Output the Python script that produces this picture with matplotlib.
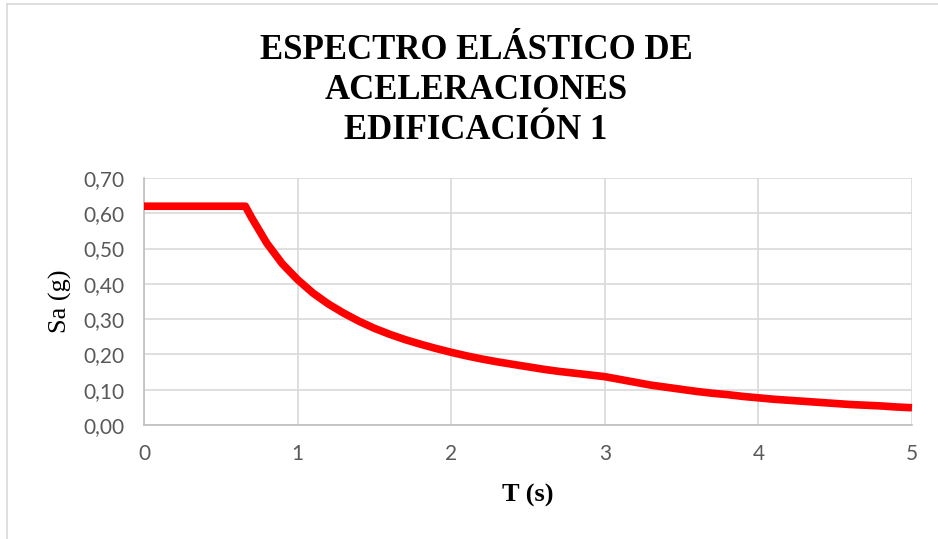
import matplotlib.pyplot as plt
from matplotlib.lines import Line2D

# Elastic acceleration spectrum, building 1
T = [0.0, 0.66, 0.7, 0.8, 0.9, 1.0, 1.1, 1.2, 1.3, 1.4, 1.5, 1.6, 1.7, 1.8, 1.9,
     2.0, 2.1, 2.2, 2.3, 2.4, 2.5, 2.6, 2.7, 2.8, 2.9, 3.0, 3.1, 3.2, 3.3, 3.4,
     3.5, 3.6, 3.7, 3.8, 3.9, 4.0, 4.1, 4.2, 4.3, 4.4, 4.5, 4.6, 4.7, 4.8, 4.9, 5.0]
Sa = [0.62, 0.62, 0.588, 0.515, 0.457, 0.412, 0.374, 0.343, 0.317, 0.294, 0.274,
      0.257, 0.242, 0.229, 0.217, 0.206, 0.196, 0.187, 0.179, 0.172, 0.165, 0.158,
      0.152, 0.147, 0.142, 0.137, 0.129, 0.121, 0.113, 0.107, 0.101, 0.095, 0.090,
      0.086, 0.081, 0.077, 0.073, 0.070, 0.067, 0.064, 0.061, 0.058, 0.056, 0.054,
      0.051, 0.049]

x_ticks = [0, 1, 2, 3, 4, 5]
y_ticks = [0.0, 0.1, 0.2, 0.3, 0.4, 0.5, 0.6, 0.7]

grid_col = '#d9d9d9'
tick_col = '#595959'

fig = plt.figure(figsize=(9.38, 5.39), dpi=100)
ax = fig.add_axes([0.1535, 0.2115, 0.8188, 0.4583])

ax.plot(T, Sa, color='#ff0000', lw=5.5, solid_capstyle='butt', solid_joinstyle='round',
        clip_on=False, zorder=3)

ax.set_xlim(0, 5)
ax.set_ylim(0, 0.7)
ax.set_xticks(x_ticks)
ax.set_yticks(y_ticks)
ax.set_xticklabels([str(v) for v in x_ticks])
ax.set_yticklabels([f'{v:.2f}'.replace('.', ',') for v in y_ticks])
ax.tick_params(length=0, labelsize=15, labelcolor=tick_col, pad=14)
for lab in ax.get_xticklabels() + ax.get_yticklabels():
    lab.set_family('Lato')

ax.grid(True, color=grid_col, lw=1.2)
ax.set_axisbelow(True)
for s in ax.spines.values():
    s.set_visible(False)
ax.spines['left'].set_visible(True)
ax.spines['left'].set_color('#bfbfbf')
ax.spines['left'].set_linewidth(1.2)
ax.spines['bottom'].set_visible(True)
ax.spines['bottom'].set_color('#bfbfbf')
ax.spines['bottom'].set_linewidth(1.2)

ax.set_xlabel('T (s)', family='Liberation Serif', fontweight='bold', fontsize=19,
              labelpad=14)
ax.set_ylabel('Sa (g)', family='Liberation Serif', fontsize=19, labelpad=8)

fig.text(0.5075, 0.936, 'ESPECTRO ELÁSTICO DE\nACELERACIONES\nEDIFICACIÓN 1',
         ha='center', va='top', family='Liberation Serif', fontweight='bold',
         fontsize=25, linespacing=1.27)

# chart area border (top and left edges)
fig.add_artist(Line2D([0.0075, 1.0], [0.992, 0.992], color=grid_col, lw=1.2))
fig.add_artist(Line2D([0.0075, 0.0075], [0.0, 0.992], color=grid_col, lw=1.2))

fig.savefig('out.png', dpi=100)
